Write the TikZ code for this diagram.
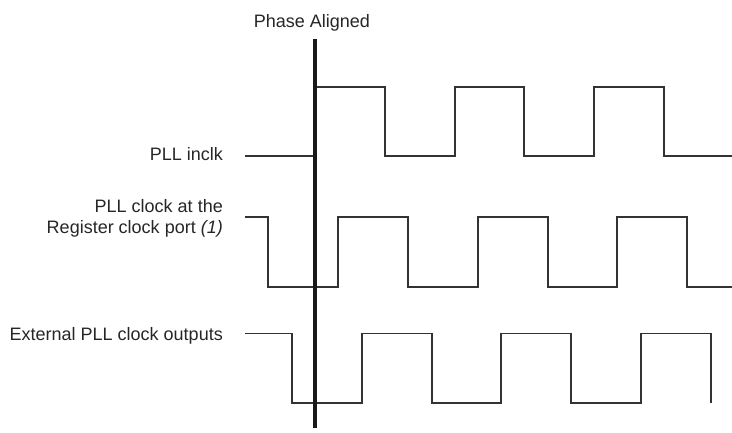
\documentclass[tikz,border=0pt]{standalone}
\usepackage{fontspec}
\setmainfont{Liberation Sans}
\begin{document}
\begin{tikzpicture}[x=1pt,y=-1pt,
  signal/.style={line width=1.3pt, draw=black!80, line join=miter},
  marker/.style={line width=4pt, draw=black!90},
  lbl/.style={font=\fontsize{18}{21.5}\selectfont, text=black!85, inner sep=0pt, align=right, anchor=base east}]
\useasboundingbox (0,0) rectangle (732,433);
% labels
\node[lbl, anchor=base] (pa) at (312,27.5) {Phase Aligned};
\node[lbl] (l1) at (223,161) {PLL inclk};
\node[lbl] (l2) at (223,234) {PLL clock at the\\Register clock port \textit{(1)}};
\node[lbl] (l3) at (223,341) {External PLL clock outputs};
% PLL inclk
\draw[signal] (245,156) -- (316,156) -- (316,87) -- (385,87) -- (385,156) -- (455,156) -- (455,87)
  -- (524,87) -- (524,156) -- (594,156) -- (594,87) -- (664,87) -- (664,156) -- (732,156);
% PLL clock at register
\draw[signal] (245,217) -- (268,217) -- (268,287) -- (338,287) -- (338,217) -- (408,217) -- (408,287)
  -- (478,287) -- (478,217) -- (548,217) -- (548,287) -- (617,287) -- (617,217) -- (687,217)
  -- (687,287) -- (732,287);
% External PLL clock outputs
\draw[signal] (245,333.5) -- (292,333.5) -- (292,403) -- (362,403) -- (362,333.5) -- (432,333.5)
  -- (432,403) -- (501,403) -- (501,333.5) -- (571,333.5) -- (571,403) -- (641,403) -- (641,333.5)
  -- (711,333.5) -- (711,403);
% phase aligned marker
\draw[marker] (315,39) -- (315,428);
\end{tikzpicture}
\end{document}
